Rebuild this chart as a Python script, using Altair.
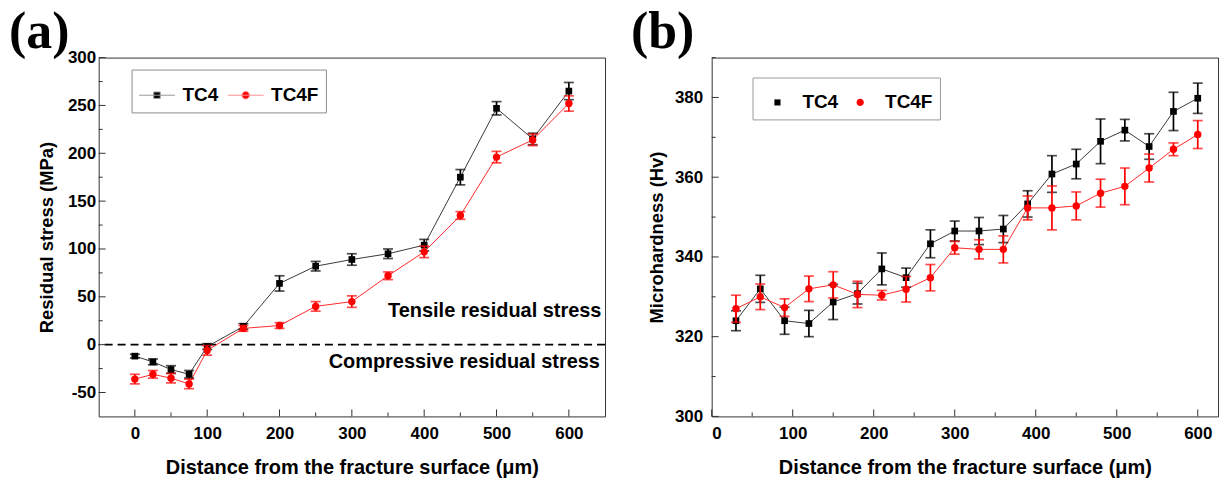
import altair as alt
import pandas as pd

# ---------------- data ----------------
SERIES = ["TC4", "TC4F"]

# (a) residual stress (MPa) vs distance from the fracture surface (um)
A_X = [0, 25, 50, 75, 100, 150, 200, 250, 300, 350, 400, 450, 500, 550, 600]
A_TC4 = [-12, -18, -26, -31, -2, 19, 64, 82, 89, 95, 104, 175, 247, 215, 265]
A_TC4_ERR = [2, 3, 4, 4, 3, 3, 8, 5, 6, 5, 6, 8, 7, 6, 9]
A_TC4F = [-36, -31, -35, -41, -6, 17, 20, 40, 45, 72, 97, 135, 196, 214, 252]
A_TC4F_ERR = [5, 4, 5, 5, 5, 3, 3, 5, 6, 4, 6, 4, 6, 6, 8]

# (b) microhardness (Hv) vs distance from the fracture surface (um)
B_X = [30, 60, 90, 120, 150, 180, 210, 240, 270, 300,
       330, 360, 390, 420, 450, 480, 510, 540, 570, 600]
B_TC4 = [324, 332, 324, 323.3, 328.7, 330.8, 337, 334.8, 343.3, 346.5,
         346.5, 347, 353.3, 360.8, 363.3, 369, 371.8, 367.7, 376.5, 379.8]
B_TC4_ERR = [2.5, 3.4, 3.4, 3.3, 4.4, 2.6, 4, 2.4, 3.5, 2.5,
             3.4, 3.4, 3.3, 4.6, 3.7, 5.6, 2.7, 3.2, 4.8, 3.8]
B_TC4F = [327, 330, 327.3, 332, 333, 330.6, 330.4, 331.9, 334.8, 342.3,
          341.9, 341.9, 352.3, 352.3, 352.8, 356, 357.7, 362.3, 367, 370.7]
B_TC4F_ERR = [3.4, 3.2, 2.2, 3.2, 3.3, 3.3, 1.2, 3.2, 3.3, 1.6,
              2.4, 3.4, 3, 5.5, 3.5, 3.5, 4.6, 3.5, 1.6, 3.5]

# axis ranges and ticks
A_XDOM, A_YDOM = [-50, 650], [-75, 300]
A_XMAJOR, A_XMINOR = [0, 100, 200, 300, 400, 500, 600], [50, 150, 250, 350, 450, 550]
A_YMAJOR = [-50, 0, 50, 100, 150, 200, 250, 300]
A_YMINOR = [-25, 25, 75, 125, 175, 225, 275]

B_XDOM, B_YDOM = [0, 625], [300, 390]
B_XMAJOR, B_XMINOR = [0, 100, 200, 300, 400, 500, 600], [50, 150, 250, 350, 450, 550]
B_YMAJOR = [300, 320, 340, 360, 380]
B_YMINOR = [310, 330, 350, 370, 390]

ZERO_LINE = [0]
ANN_TEXT = ["Tensile residual stress", "Compressive residual stress"]
ANN_X = [645, 643]
ANN_Y = [28.5, -24.5]
PANEL_LABELS = ["(a)", "(b)"]
X_TITLE = "Distance from the fracture surface (\u03bcm)"

# ---------------- style ----------------
FONT = "Liberation Sans"
SERIF = "Liberation Serif"
W, H = 508, 360
MARK_COLORS = ["#000000", "#ff0000"]
LINE_COLORS = ["#3a3a3a", "#ff2a2a"]
LEGEND_LINE_COLORS = ["#9a9a9a", "#ff9090"]
SHAPES = ["square", "circle"]
SIZES = [45, 55]

# legend glyphs: a line through a marker, or a marker centred in an empty slot
A_LEGEND_PATHS = [
    "M-1,0H1M-0.18,-0.18H0.18V0.18H-0.18Z",
    "M-1,0H1M0.21,0A0.21,0.21,0,1,1,-0.21,0A0.21,0.21,0,1,1,0.21,0Z",
]
B_LEGEND_PATHS = [
    "M-1,0M1,0M-0.17,-0.17H0.17V0.17H-0.17Z",
    "M-1,0M1,0M0.2,0A0.2,0.2,0,1,1,-0.2,0A0.2,0.2,0,1,1,0.2,0Z",
]


def long_frame(xs, v1, e1, v2, e2):
    rows = []
    for name, vals, errs in ((SERIES[0], v1, e1), (SERIES[1], v2, e2)):
        for x, v, e in zip(xs, vals, errs):
            rows.append({"x": x, "value": v, "lo": v - e, "hi": v + e, "series": name})
    return pd.DataFrame(rows)


def panel(df, xdom, ydom, xmajor, xminor, ymajor, yminor, ytitle, letter,
          letter_dx, legend, legend_paths, legend_lines, ylab_pad, ytitle_pad, extra=()):
    xs = alt.Scale(domain=xdom, nice=False, zero=False)
    ys = alt.Scale(domain=ydom, nice=False, zero=False)
    axis_common = dict(
        ticks=False, domain=False, grid=False,
        labelFont=FONT, labelFontSize=17, labelFontWeight="bold", labelColor="black",
        titleFont=FONT, titleFontWeight="bold", titleColor="black",
    )
    X = alt.X("x:Q", scale=xs, axis=alt.Axis(values=xmajor, title=X_TITLE, titleFontSize=20,
                                             labelPadding=9, titlePadding=16, **axis_common))
    Y = alt.Y("value:Q", scale=ys, axis=alt.Axis(values=ymajor, title=ytitle, titleFontSize=18.5,
                                                 labelExpr="datum.value + ''",
                                                 labelPadding=ylab_pad, titlePadding=ytitle_pad,
                                                 **axis_common))
    base = alt.Chart(df)
    layers = list(extra)

    for i, name in enumerate(SERIES):
        sub = base.transform_filter(alt.datum.series == name)
        layers.append(sub.mark_line(color=LINE_COLORS[i], strokeWidth=1).encode(x=X, y=Y))
    for i, name in enumerate(SERIES):
        sub = base.transform_filter(alt.datum.series == name)
        layers.append(sub.mark_errorbar(ticks=True, size=10, thickness=1.7,
                                        color=MARK_COLORS[i]).encode(
            x=X, y=alt.Y("lo:Q", scale=ys, title=ytitle), y2="hi:Q"))
        layers.append(sub.mark_point(filled=True, shape=SHAPES[i], size=SIZES[i],
                                     color=MARK_COLORS[i], opacity=1).encode(x=X, y=Y))

    # legend carrier (draws nothing itself)
    enc = dict(
        x=X, y=Y,
        fill=alt.Fill("series:N", scale=alt.Scale(domain=SERIES, range=MARK_COLORS), legend=legend),
        shape=alt.Shape("series:N", scale=alt.Scale(domain=SERIES, range=legend_paths), legend=legend),
    )
    if legend_lines:
        enc["stroke"] = alt.Stroke("series:N", scale=alt.Scale(domain=SERIES, range=legend_lines),
                                   legend=legend)
    layers.append(base.transform_filter("false").mark_point(filled=True, opacity=1).encode(**enc))

    # inward ticks
    def tick_df(vals):
        return pd.DataFrame({"t": vals})
    layers.append(alt.Chart(tick_df(xmajor)).mark_rule(color="#333", strokeWidth=1).encode(
        x=alt.X("t:Q", scale=xs), y=alt.value(H), y2=alt.value(H - 7)))
    layers.append(alt.Chart(tick_df(xminor)).mark_rule(color="#333", strokeWidth=1).encode(
        x=alt.X("t:Q", scale=xs), y=alt.value(H), y2=alt.value(H - 4)))
    layers.append(alt.Chart(tick_df(ymajor)).mark_rule(color="#333", strokeWidth=1).encode(
        y=alt.Y("t:Q", scale=ys), x=alt.value(0), x2=alt.value(7)))
    layers.append(alt.Chart(tick_df(yminor)).mark_rule(color="#333", strokeWidth=1).encode(
        y=alt.Y("t:Q", scale=ys), x=alt.value(0), x2=alt.value(4)))

    # panel letter
    layers.append(alt.Chart(pd.DataFrame({"lab": [letter]})).mark_text(
        font=SERIF, fontSize=52, fontWeight="bold", align="left", baseline="alphabetic",
        color="black").encode(text="lab:N", x=alt.value(letter_dx), y=alt.value(-10)))

    return alt.layer(*layers).properties(width=W, height=H)


df_a = long_frame(A_X, A_TC4, A_TC4_ERR, A_TC4F, A_TC4F_ERR)
df_b = long_frame(B_X, B_TC4, B_TC4_ERR, B_TC4F, B_TC4F_ERR)

sa_x = alt.Scale(domain=A_XDOM, nice=False, zero=False)
sa_y = alt.Scale(domain=A_YDOM, nice=False, zero=False)

zero_rule = alt.Chart(pd.DataFrame({"y": ZERO_LINE})).mark_rule(
    color="black", strokeWidth=1.6, strokeDash=[8, 5]).encode(y=alt.Y("y:Q", scale=sa_y))
ann = alt.Chart(pd.DataFrame({"x": ANN_X, "y": ANN_Y, "txt": ANN_TEXT})).mark_text(
    font=FONT, fontSize=20, fontWeight="bold", align="right", baseline="alphabetic",
    color="black").encode(x=alt.X("x:Q", scale=sa_x), y=alt.Y("y:Q", scale=sa_y), text="txt:N")

legend_common = dict(
    orient="none", direction="horizontal", title=None,
    fillColor="white", padding=7, symbolSize=1296, symbolOpacity=1,
    labelFont=FONT, labelFontSize=19, labelFontWeight="bold", labelColor="black",
    labelOffset=7,
)
legend_a = alt.Legend(legendX=33, legendY=12, strokeColor="#8c8c8c", symbolStrokeWidth=1,
                      columnPadding=7, **legend_common)
legend_b = alt.Legend(legendX=41, legendY=20, strokeColor="#9a9a9a", symbolStrokeWidth=0,
                      columnPadding=4, **legend_common)

panel_a = panel(df_a, A_XDOM, A_YDOM, A_XMAJOR, A_XMINOR, A_YMAJOR, A_YMINOR,
                "Residual stress (MPa)", PANEL_LABELS[0], -90,
                legend_a, A_LEGEND_PATHS, LEGEND_LINE_COLORS, 3, 11, extra=(zero_rule, ann))
panel_b = panel(df_b, B_XDOM, B_YDOM, B_XMAJOR, B_XMINOR, B_YMAJOR, B_YMINOR,
                "Microhardness (Hv)", PANEL_LABELS[1], -81,
                legend_b, B_LEGEND_PATHS, None, 9, 8)

chart = alt.hconcat(panel_a, panel_b, spacing=23).resolve_scale(
    x="independent", y="independent", fill="independent", shape="independent",
    stroke="independent",
).properties(
    padding={"left": 8, "top": 4, "right": 5, "bottom": 0}, background="white"
).configure_view(stroke="#333", strokeWidth=1)

chart.save("out.html", embed_options={"renderer": "svg", "actions": False})
